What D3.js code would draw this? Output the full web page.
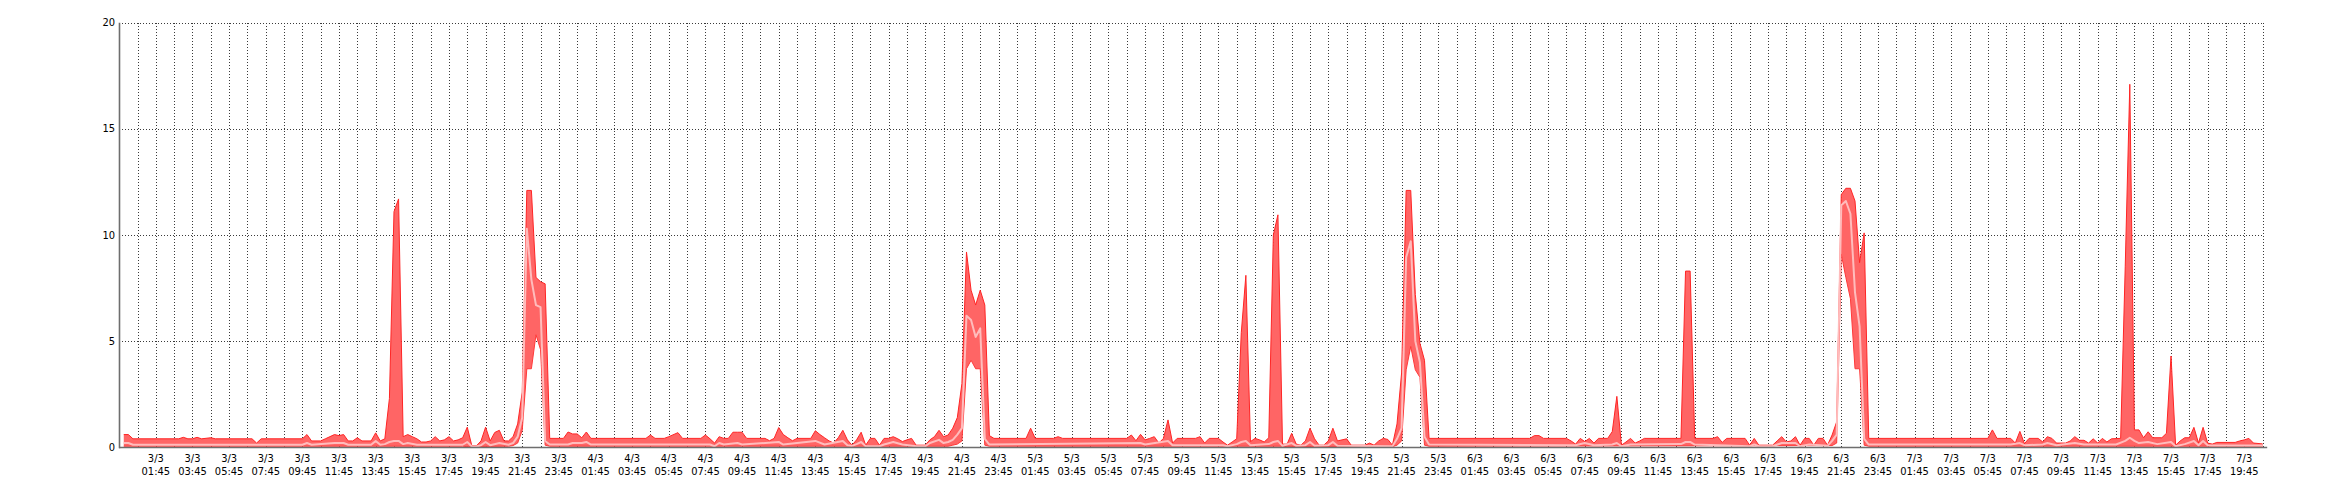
<!DOCTYPE html>
<html><head><meta charset="utf-8">
<script src="https://cdn.jsdelivr.net/npm/d3@7"></script>
<style>
html,body{margin:0;padding:0;background:#fff;}
svg text{font-family:"DejaVu Sans Condensed","DejaVu Sans",sans-serif;font-size:11px;fill:#000;}
</style></head>
<body><svg id="chart" width="2340" height="500"></svg>
<script>
// hours are counted from 3/3 00:00, one sample every 15 minutes
const yTicks = [0, 5, 10, 15, 20];
const tickLabels = [
"3/3 01:45","3/3 03:45","3/3 05:45","3/3 07:45","3/3 09:45","3/3 11:45","3/3 13:45","3/3 15:45","3/3 17:45","3/3 19:45","3/3 21:45","3/3 23:45",
"4/3 01:45","4/3 03:45","4/3 05:45","4/3 07:45","4/3 09:45","4/3 11:45","4/3 13:45","4/3 15:45","4/3 17:45","4/3 19:45","4/3 21:45","4/3 23:45",
"5/3 01:45","5/3 03:45","5/3 05:45","5/3 07:45","5/3 09:45","5/3 11:45","5/3 13:45","5/3 15:45","5/3 17:45","5/3 19:45","5/3 21:45","5/3 23:45",
"6/3 01:45","6/3 03:45","6/3 05:45","6/3 07:45","6/3 09:45","6/3 11:45","6/3 13:45","6/3 15:45","6/3 17:45","6/3 19:45","6/3 21:45","6/3 23:45",
"7/3 01:45","7/3 03:45","7/3 05:45","7/3 07:45","7/3 09:45","7/3 11:45","7/3 13:45","7/3 15:45","7/3 17:45","7/3 19:45"];

const maxPts = [
[0,0.6],[0.25,0.6],[0.5,0.4],[3,0.4],[3.25,0.47],[3.5,0.4],[3.75,0.4],[4,0.47],[4.25,0.4],[4.75,0.45],[5,0.4],
[7,0.4],[7.25,0.2],[7.5,0.4],[9.75,0.4],[10,0.6],[10.25,0.3],[10.75,0.3],[11,0.4],[11.5,0.6],[11.75,0.55],[12,0.6],
[12.25,0.3],[12.5,0.3],[12.75,0.45],[13,0.3],[13.5,0.3],[13.75,0.68],[14,0.3],[14.25,0.4],[14.5,2.3],[14.75,11.1],[15,11.7],
[15.25,0.5],[15.5,0.6],[15.75,0.5],[16,0.4],[16.25,0.25],[16.5,0.25],[16.75,0.3],[17,0.5],[17.25,0.3],[17.5,0.35],[17.75,0.5],
[18,0.3],[18.25,0.35],[18.5,0.45],[18.75,0.95],[19,0.07],[19.25,0.07],[19.5,0.3],[19.75,0.95],[20,0.3],[20.25,0.7],[20.5,0.8],
[20.75,0.3],[21,0.3],[21.25,0.5],[21.5,1.1],[21.75,2.6],[22,12.1],[22.25,12.1],[22.5,8.0],[22.75,7.8],[23,7.7],[23.25,0.42],
[24,0.42],[24.25,0.72],[24.5,0.63],[24.75,0.63],[25,0.45],[25.25,0.72],[25.5,0.42],[28.5,0.42],[28.75,0.58],[29,0.42],
[29.5,0.42],[29.75,0.5],[30.25,0.69],[30.5,0.42],[31.5,0.42],[31.75,0.58],[32,0.4],[32.25,0.2],[32.5,0.5],[32.75,0.42],
[33,0.42],[33.25,0.71],[33.5,0.71],[33.75,0.71],[34,0.42],[35,0.42],[35.25,0.31],[35.5,0.42],[35.75,0.93],[36,0.6],
[36.25,0.45],[36.5,0.31],[36.75,0.42],[37.5,0.42],[37.75,0.78],[38,0.6],[38.25,0.45],[38.5,0.3],[38.75,0.2],[39,0.45],
[39.25,0.8],[39.5,0.35],[39.75,0.1],[40,0.35],[40.25,0.71],[40.5,0.1],[40.75,0.42],[41,0.42],[41.25,0.1],[41.5,0.42],
[41.75,0.42],[42,0.5],[42.25,0.4],[42.5,0.27],[42.75,0.35],[43,0.42],[43.25,0.1],[43.75,0.1],[44,0.35],[44.25,0.5],
[44.5,0.8],[44.75,0.5],[45,0.58],[45.25,0.9],[45.5,1.4],[45.75,3.0],[46,9.2],[46.25,7.4],[46.5,6.7],[46.75,7.4],[47,6.7],
[47.25,0.55],[47.5,0.42],[49.25,0.42],[49.5,0.9],[49.75,0.42],[50.75,0.42],[51,0.5],[51.25,0.42],[54.75,0.42],[55,0.58],
[55.25,0.31],[55.5,0.61],[55.75,0.35],[56,0.42],[56.25,0.5],[56.5,0.2],[56.75,0.42],[57,1.29],[57.25,0.2],[57.5,0.42],
[58.5,0.42],[58.75,0.5],[59,0.2],[59.25,0.42],[59.75,0.42],[60,0.25],[60.25,0.1],[60.5,0.25],[60.75,0.4],[61,5.4],
[61.25,8.1],[61.5,0.27],[61.75,0.42],[62,0.35],[62.25,0.25],[62.5,0.45],[62.75,10.0],[63,10.95],[63.25,0.15],[63.5,0.15],
[63.75,0.66],[64,0.15],[64.25,0.1],[64.5,0.3],[64.75,0.9],[65,0.4],[65.25,0.1],[65.5,0.1],[65.75,0.3],[66,0.9],[66.25,0.3],
[66.5,0.35],[66.75,0.4],[67,0.1],[67.75,0.1],[68,0.2],[68.25,0.1],[68.5,0.3],[68.75,0.42],[69,0.37],[69.25,0.1],[69.5,1.1],
[69.75,3.5],[70,12.1],[70.25,12.1],[70.5,7.2],[70.75,4.9],[71,4.1],[71.25,0.42],[76.75,0.42],[77,0.55],[77.25,0.55],
[77.5,0.42],[78.75,0.42],[79,0.3],[79.25,0.15],[79.5,0.42],[79.75,0.27],[80,0.42],[80.25,0.2],[80.5,0.42],[81,0.42],
[81.25,0.74],[81.5,2.4],[81.75,0.1],[82,0.25],[82.25,0.42],[82.5,0.2],[82.75,0.3],[83,0.42],[85,0.42],[85.25,8.3],[85.5,8.3],
[85.75,0.42],[86.75,0.42],[87,0.5],[87.25,0.23],[87.5,0.42],[88.5,0.42],[88.75,0.1],[89,0.42],[89.25,0.1],[90,0.1],
[90.25,0.3],[90.5,0.5],[90.75,0.25],[91,0.3],[91.25,0.5],[91.5,0.1],[91.75,0.42],[92,0.42],[92.25,0.1],[92.5,0.42],
[92.75,0.42],[93,0.1],[93.25,0.58],[93.5,1.2],[93.75,11.9],[94,12.2],[94.25,12.2],[94.5,11.6],[94.75,8.7],[95,10.1],
[95.25,0.42],[101.75,0.42],[102,0.82],[102.25,0.42],[103,0.42],[103.25,0.2],[103.5,0.75],[103.75,0.17],[104,0.42],
[104.5,0.42],[104.75,0.25],[105,0.5],[105.25,0.42],[105.5,0.2],[106,0.2],[106.25,0.3],[106.5,0.5],[106.75,0.33],[107,0.33],
[107.25,0.2],[107.5,0.4],[107.75,0.2],[108,0.42],[108.25,0.25],[108.5,0.4],[109,0.42],[109.25,8.5],[109.5,17.1],[109.75,0.82],
[110,0.82],[110.25,0.45],[110.5,0.73],[110.75,0.45],[111.25,0.45],[111.5,0.66],[111.75,4.3],[112,0.1],[112.25,0.3],
[112.5,0.45],[112.75,0.45],[113,0.94],[113.25,0.2],[113.5,0.94],[113.75,0.2],[114,0.15],[114.25,0.23],[115.25,0.23],
[115.5,0.3],[115.75,0.35],[116,0.42],[116.25,0.2],[116.75,0.16]];

const minPts = [
[0,0.05],[18.5,0.05],[18.75,0.03],[19,0.02],[19.25,0.02],[19.5,0.04],[21,0.05],[21.25,0.08],[21.5,0.2],[21.75,0.8],
[22,3.7],[22.25,3.7],[22.5,5.3],[22.75,4.6],[23,0.1],[23.25,0.05],[45,0.05],[45.25,0.1],[45.5,0.15],[45.75,0.3],
[46,3.7],[46.25,4.1],[46.5,3.7],[46.75,3.7],[47,0.1],[47.25,0.05],[63.25,0.05],[63.5,0.03],[69.25,0.03],[69.5,0.1],
[69.75,0.3],[70,3.65],[70.25,4.75],[70.5,3.65],[70.75,3.3],[71,0.1],[71.25,0.05],[93.25,0.08],[93.5,0.2],[93.75,9.1],
[94,8.0],[94.25,7.0],[94.5,3.7],[94.75,3.7],[95,0.1],[95.25,0.05],[116.75,0.05]];

const avgPts = [
[0,0.2],[0.25,0.2],[0.5,0.12],[9.75,0.12],[10,0.2],[10.25,0.12],[11.5,0.2],[12,0.2],[12.25,0.12],[13.5,0.12],[13.75,0.3],
[14,0.12],[14.25,0.15],[14.5,0.25],[14.75,0.3],[15,0.3],[15.25,0.15],[15.5,0.2],[16,0.12],[18.5,0.12],[18.75,0.25],
[19,0.04],[19.25,0.04],[19.5,0.1],[19.75,0.25],[20,0.1],[20.5,0.2],[21,0.12],[21.25,0.2],[21.5,0.5],[21.75,1.4],[22,10.3],
[22.25,7.9],[22.5,6.7],[22.75,6.6],[23,0.3],[23.25,0.13],[24.25,0.13],[24.5,0.2],[25,0.2],[25.25,0.25],[25.5,0.13],
[32,0.13],[32.25,0.05],[32.5,0.2],[32.75,0.13],[33.5,0.2],[33.75,0.13],[35.75,0.25],[36,0.13],[37.75,0.3],[38.25,0.13],
[39.25,0.3],[39.5,0.1],[39.75,0.07],[40,0.15],[40.25,0.25],[40.5,0.05],[41.25,0.05],[41.5,0.13],[42,0.25],[42.5,0.13],
[43.25,0.05],[43.75,0.05],[44,0.2],[44.5,0.35],[44.75,0.2],[45,0.25],[45.25,0.35],[45.5,0.6],[45.75,0.9],[46,6.2],[46.25,6.0],
[46.5,5.2],[46.75,5.6],[47,0.4],[47.25,0.13],[55.5,0.2],[55.75,0.13],[57,0.3],[57.25,0.1],[60,0.1],[60.25,0.05],[60.75,0.15],
[61,0.25],[61.25,0.3],[61.5,0.1],[62.5,0.15],[62.75,0.25],[63,0.3],[63.25,0.07],[63.75,0.2],[64,0.07],[64.5,0.1],[64.75,0.25],
[65,0.07],[65.75,0.1],[66,0.25],[66.25,0.07],[69.25,0.05],[69.5,0.4],[69.75,0.9],[70,8.95],[70.25,9.7],[70.5,5.0],[70.75,4.0],
[71,0.5],[71.25,0.13],[79.25,0.1],[79.75,0.2],[80.25,0.1],[81.25,0.13],[81.5,0.2],[81.75,0.05],[82.25,0.13],[85,0.15],
[85.25,0.25],[85.5,0.25],[85.75,0.13],[88.75,0.05],[89,0.13],[89.25,0.05],[90,0.05],[90.5,0.2],[91.25,0.2],[91.5,0.05],
[92,0.13],[93,0.07],[93.25,0.3],[93.5,0.6],[93.75,11.4],[94,11.6],[94.25,11.0],[94.5,7.3],[94.75,5.7],[95,0.4],[95.25,0.13],
[103,0.13],[103.5,0.2],[103.75,0.1],[104.75,0.13],[105,0.2],[105.5,0.1],[106.5,0.2],[107,0.13],[108.75,0.13],[109.25,0.3],
[109.5,0.45],[109.75,0.3],[110,0.2],[110.5,0.25],[111,0.15],[111.75,0.25],[112,0.05],[112.5,0.15],[113,0.3],[113.25,0.1],
[113.5,0.3],[113.75,0.1],[114,0.08],[116.75,0.08]];

const svg = d3.select("#chart");
const x = d3.scaleLinear().domain([-0.25, 117]).range([119.2, 2267.2]);
const y = d3.scaleLinear().domain([0, 20]).range([447.3, 22.7]);
const lastHour = 116.75;

function parseLabel(s) {
  const [d, t] = s.split(" ");
  const day = +d.split("/")[0];
  const [hh, mm] = t.split(":").map(Number);
  return (day - 3) * 24 + hh + mm / 60;
}

// grid
const grid = svg.append("g").attr("stroke", "#3a3a3a").attr("stroke-dasharray", "1,2")
  .attr("shape-rendering", "crispEdges");
const hourLines = d3.range(0.75, lastHour + 0.01, 1);
grid.selectAll("line.v").data(hourLines).join("line")
  .attr("x1", d => Math.round(x(d)) + 0.5).attr("x2", d => Math.round(x(d)) + 0.5)
  .attr("y1", y(20)).attr("y2", y(0));
grid.selectAll("line.h").data(yTicks.filter(d => d > 0)).join("line")
  .attr("x1", x(-0.25)).attr("x2", Math.round(x(lastHour)) + 1)
  .attr("y1", d => Math.round(y(d)) + 0.5).attr("y2", d => Math.round(y(d)) + 0.5);

// band between min and max
const line = d3.line().x(d => x(d[0])).y(d => y(d[1]));
const upper = line(maxPts);
const lower = line(minPts.slice().reverse());
svg.append("path").attr("d", upper + "L" + lower.slice(1) + "Z")
  .attr("fill", "#ff6565").attr("stroke", "none");
svg.append("path").attr("d", line(maxPts)).attr("fill", "none")
  .attr("stroke", "#ff2525").attr("stroke-width", 1);
svg.append("path").attr("d", line(minPts)).attr("fill", "none")
  .attr("stroke", "#ff3a3a").attr("stroke-width", 1);
svg.append("path").attr("d", line(avgPts)).attr("fill", "none")
  .attr("stroke", "#ffbcbc").attr("stroke-width", 2).attr("stroke-linejoin", "round");

// axes
svg.append("line").attr("x1", 119.5).attr("x2", 119.5).attr("y1", y(20)).attr("y2", y(0) + 1)
  .attr("stroke", "#6e6e6e").attr("stroke-width", 1.6);
svg.append("line").attr("x1", 119).attr("x2", x(117)).attr("y1", 447.5).attr("y2", 447.5)
  .attr("stroke", "#6e6e6e").attr("stroke-width", 1.6);

// y labels
svg.append("g").selectAll("text").data(yTicks).join("text")
  .attr("x", 115).attr("y", d => y(d)).attr("text-anchor", "end")
  .attr("dominant-baseline", "central").text(d => d);

// x labels
const xl = svg.append("g").selectAll("text").data(tickLabels).join("text")
  .attr("text-anchor", "middle");
xl.append("tspan").attr("x", d => x(parseLabel(d))).attr("y", 462.3).text(d => d.split(" ")[0]);
xl.append("tspan").attr("x", d => x(parseLabel(d))).attr("y", 474.7).text(d => d.split(" ")[1]);
</script>
</body></html>
